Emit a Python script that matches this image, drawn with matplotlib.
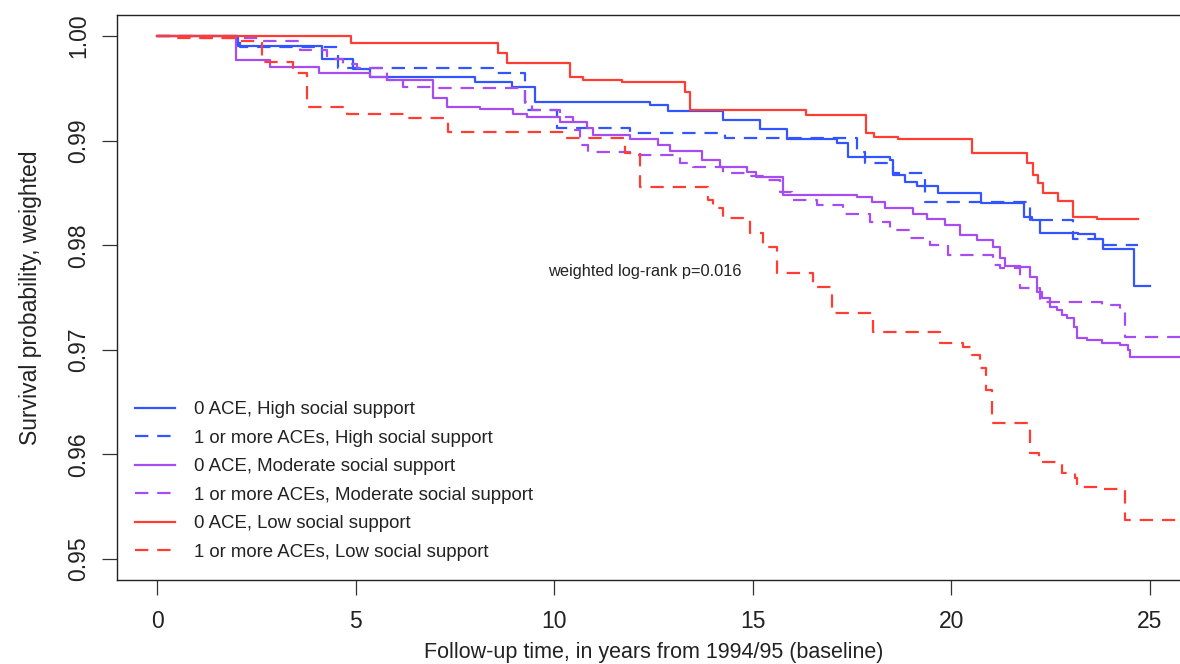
import matplotlib
matplotlib.use("Agg")
import matplotlib.pyplot as plt

plt.rcParams['font.family'] = ['Liberation Sans', 'DejaVu Sans']

# ---- data ----
labels = [
    "0 ACE, High social support",
    "1 or more ACEs, High social support",
    "0 ACE, Moderate social support",
    "1 or more ACEs, Moderate social support",
    "0 ACE, Low social support",
    "1 or more ACEs, Low social support",
]

high_0_t = [0, 2.04, 4.15, 4.93, 5.36, 8.01, 8.94, 9.52, 12.41, 12.86, 14.25, 15.18, 15.86,
            17.12, 17.40, 18.45, 18.53, 18.83, 19.13, 19.66, 20.75, 21.83, 22.03, 22.23,
            23.19, 23.62, 23.82, 24.60, 25.0]
high_0_s = [1.0, 0.99904, 0.99777, 0.99682, 0.99611, 0.99563, 0.99515, 0.99372, 0.99340,
            0.99286, 0.99197, 0.99108, 0.99018, 0.98974, 0.98840, 0.98815, 0.98671, 0.98607,
            0.98566, 0.98496, 0.98406, 0.98272, 0.98241, 0.98119, 0.98107, 0.98059, 0.97961,
            0.97610, 0.97610]

high_1_t = [0, 2.09, 4.56, 8.46, 9.26, 10.07, 11.91, 14.30, 17.62, 17.82, 18.53, 19.34,
            21.98, 23.06, 23.74, 24.70]
high_1_s = [1.0, 0.99898, 0.99691, 0.99643, 0.99293, 0.99118, 0.99070, 0.99022, 0.98894,
            0.98783, 0.98687, 0.98416, 0.98241, 0.98056, 0.98002, 0.98002]

mod_0_t = [0, 1.99, 2.84, 4.08, 5.36, 5.79, 6.95, 7.30, 8.13, 8.96, 9.32, 10.15, 10.83,
           10.98, 11.91, 12.61, 12.92, 13.72, 14.18, 14.85, 15.08, 15.76, 17.62, 18.00,
           18.33, 19.03, 19.39, 19.84, 20.22, 20.64, 21.05, 21.22, 21.35, 21.73, 21.98,
           22.15, 22.28, 22.48, 22.66, 22.79, 22.91, 23.09, 23.16, 23.41, 23.79, 24.24,
           24.45, 24.50, 26.5]
mod_0_s = [1.0, 0.99771, 0.99707, 0.99643, 0.99611, 0.99579, 0.99404, 0.99318, 0.99299,
           0.99254, 0.99223, 0.99181, 0.99118, 0.99054, 0.99012, 0.98958, 0.98901, 0.98815,
           0.98748, 0.98703, 0.98655, 0.98480, 0.98464, 0.98416, 0.98353, 0.98298, 0.98248,
           0.98193, 0.98098, 0.98050, 0.97986, 0.97875, 0.97801, 0.97789, 0.97699, 0.97553,
           0.97492, 0.97412, 0.97380, 0.97333, 0.97304, 0.97221, 0.97110, 0.97094, 0.97068,
           0.97046, 0.96998, 0.96928, 0.96928]

mod_1_t = [0, 0.96, 2.64, 3.60, 4.28, 4.68, 5.04, 5.79, 6.19, 6.95, 9.26, 9.44, 10.15,
           10.47, 10.65, 10.85, 11.91, 13.17, 13.50, 14.25, 14.85, 15.36, 15.69, 15.99,
           16.62, 17.27, 17.95, 18.45, 18.96, 19.46, 19.91, 21.05, 21.22, 21.73, 22.23,
           23.79, 24.24, 24.37, 26.5]
mod_1_s = [1.0, 0.99981, 0.99952, 0.99866, 0.99777, 0.99732, 0.99691, 0.99579, 0.99515,
           0.99499, 0.99372, 0.99293, 0.99228, 0.99101, 0.98958, 0.98888, 0.98862, 0.98783,
           0.98751, 0.98687, 0.98662, 0.98623, 0.98511, 0.98432, 0.98384, 0.98298, 0.98222,
           0.98145, 0.98069, 0.98002, 0.97906, 0.97811, 0.97782, 0.97588, 0.97460, 0.97428,
           0.97364, 0.97125, 0.97125]

low_0_t = [0, 4.88, 8.59, 8.81, 10.40, 10.73, 11.71, 13.29, 13.42, 16.34, 17.85, 18.05,
           18.66, 20.52, 21.90, 22.05, 22.18, 22.31, 22.68, 23.06, 23.67, 24.70]
low_0_s = [1.0, 0.99936, 0.99837, 0.99745, 0.99608, 0.99579, 0.99565, 0.99465, 0.99288,
           0.99245, 0.99076, 0.99032, 0.99018, 0.98884, 0.98783, 0.98671, 0.98597, 0.98496,
           0.98425, 0.98267, 0.98253, 0.98253]

low_1_t = [0, 0.45, 2.01, 2.64, 3.42, 3.78, 4.78, 6.24, 7.33, 10.27, 11.78, 12.16, 13.87,
           14.00, 14.25, 14.93, 15.26, 15.61, 16.52, 16.99, 18.03, 19.71, 20.29, 20.52,
           20.72, 20.87, 21.02, 21.98, 22.20, 22.78, 23.11, 23.16, 23.74, 24.37, 26.5]
low_1_s = [1.0, 0.99978, 0.99952, 0.99754, 0.99643, 0.99318, 0.99254, 0.99213, 0.99085,
           0.99022, 0.98879, 0.98559, 0.98432, 0.98353, 0.98257, 0.98114, 0.97986, 0.97731,
           0.97604, 0.97349, 0.97173, 0.97062, 0.97030, 0.96950, 0.96826, 0.96616, 0.96297,
           0.96013, 0.95930, 0.95825, 0.95771, 0.95691, 0.95669, 0.95373, 0.95373]

series_t = [high_0_t, high_1_t, mod_0_t, mod_1_t, low_0_t, low_1_t]
series_s = [high_0_s, high_1_s, mod_0_s, mod_1_s, low_0_s, low_1_s]

x_ticks = [0, 5, 10, 15, 20, 25]
y_ticks = [0.95, 0.96, 0.97, 0.98, 0.99, 1.00]
y_tick_labels = ["0.95", "0.96", "0.97", "0.98", "0.99", "1.00"]
annotation = "weighted log-rank p=0.016"
annotation_xy = (12.27, 0.9775)

# ---- styles ----
c_blue = "#3355ff"
c_purple = "#a64df2"
c_red = "#ff3d33"
colors = [c_blue, c_blue, c_purple, c_purple, c_red, c_red]
styles = ["-", (0, (6, 4)), "-", (0, (6, 4)), "-", (0, (6, 4))]
txt_col = "#222222"

W, H = 1180, 664
fig = plt.figure(figsize=(W / 100, H / 100), dpi=100)
ax = fig.add_axes([117.3 / W, 1 - 579.9 / H, (1189.7 - 117.3) / W, (579.9 - 15.1) / H])

for t, s, c, ls, lab in zip(series_t, series_s, colors, styles, labels):
    ax.step(t, s, where="post", color=c, linestyle=ls, linewidth=1.6, label=lab)

ax.set_xlim(-1, 26)
ax.set_ylim(0.948, 1.002)
ax.set_xticks(x_ticks)
ax.set_xticklabels([str(v) for v in x_ticks])
ax.set_yticks(y_ticks)
ax.set_yticklabels(y_tick_labels, rotation=90, va="center")

for sp in ax.spines.values():
    sp.set_linewidth(1.0)
    sp.set_color(txt_col)

ax.tick_params(axis="both", direction="out", length=10.5, width=0.9, color="#333333",
               labelsize=16.5, labelcolor=txt_col)
ax.tick_params(axis="x", pad=11.5)
ax.tick_params(axis="y", pad=9)

ax.set_xlabel("Follow-up time, in years from 1994/95 (baseline)", fontsize=15.5,
              color=txt_col, labelpad=6.0)
ax.set_ylabel("Survival probability, weighted", fontsize=16.5, color=txt_col,
              labelpad=18)

ax.text(annotation_xy[0], annotation_xy[1], annotation, ha="center", va="center",
        fontsize=11.8, color=txt_col)

leg = ax.legend(loc="upper left", bbox_to_anchor=(135 / W, 1 - 401 / H),
                bbox_transform=fig.transFigure, frameon=False, fontsize=13.4,
                borderpad=0, borderaxespad=0, handlelength=2.15, handletextpad=1.0,
                labelspacing=0.62)
for txt in leg.get_texts():
    txt.set_color(txt_col)

fig.savefig("out.png", dpi=100)
